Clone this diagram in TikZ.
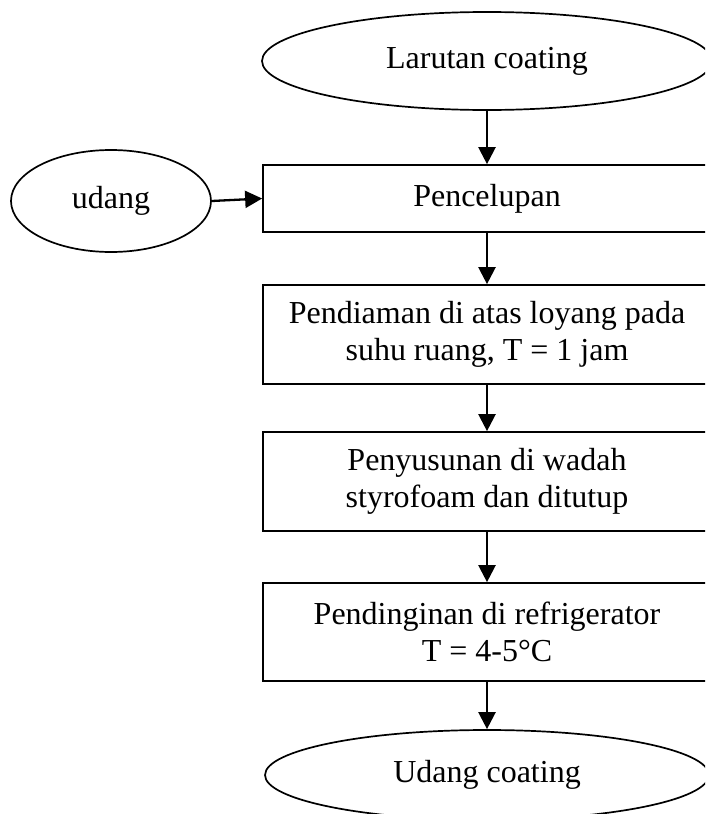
\documentclass[tikz,border=0pt]{standalone}
\usepackage{fontspec}
\setmainfont{Liberation Serif}
\usetikzlibrary{shapes.geometric,arrows.meta}
\begin{document}
\begin{tikzpicture}[x=1pt,y=-1pt,
  every node/.style={font=\fontsize{32}{37}\selectfont, align=center, inner sep=0pt},
  procbox/.style={draw, line width=1.7pt, rectangle, minimum width=448pt},
  term/.style={draw, line width=1.7pt, ellipse},
  flow/.style={line width=2.3pt, -{Triangle[length=17pt,width=17pt]}}]
\useasboundingbox (0,0) rectangle (705,814);
\clip (0,0) rectangle (705,814);
\node[term, minimum width=450pt, minimum height=98pt] (lar) at (487,61) {Larutan coating};
\node[term, minimum width=200pt, minimum height=102pt] (udg) at (111,201) {udang};
\node[procbox, minimum height=67pt] (b1) at (487,198.5) {Pencelupan};
\node[procbox, minimum height=99pt] (b2) at (487,334.5) {Pendiaman di atas loyang pada\\suhu ruang, T = 1 jam};
\node[procbox, minimum height=99pt] (b3) at (487,481.5) {Penyusunan di wadah\\styrofoam dan ditutup};
\node[procbox, minimum height=98pt] (b4) at (487,632) {Pendinginan di refrigerator\\T = 4-5°C};
\node[term, minimum width=444pt, minimum height=90pt] (out) at (487,775) {Udang coating};
\draw[flow] (lar.south) -- (b1.north);
\draw[flow] (udg.east) -- (b1.west);
\draw[flow] (b1.south) -- (b2.north);
\draw[flow] (b2.south) -- (b3.north);
\draw[flow] (b3.south) -- (b4.north);
\draw[flow] (b4.south) -- (out.north);
\end{tikzpicture}
\end{document}
